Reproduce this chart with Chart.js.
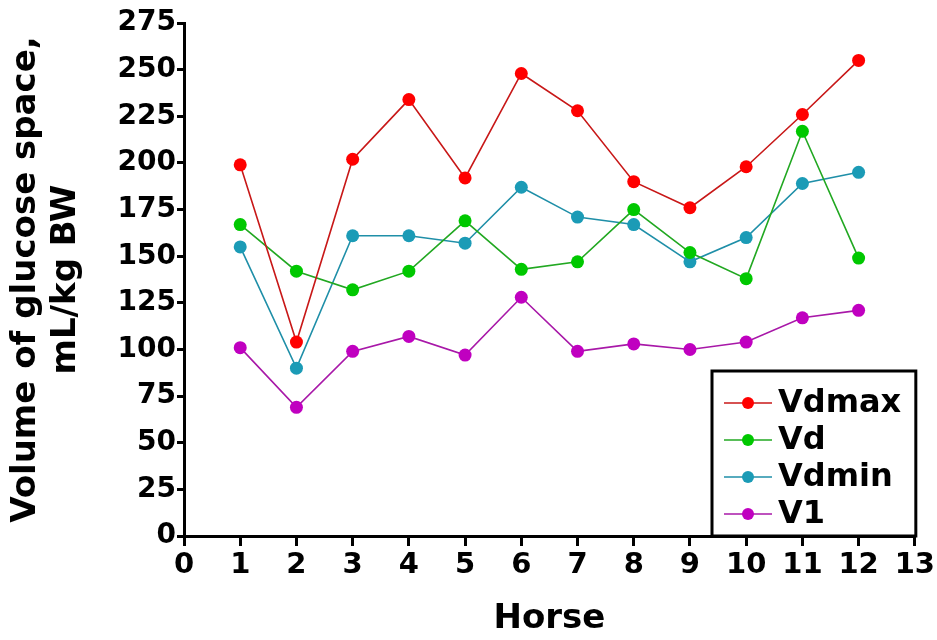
<!DOCTYPE html>
<html>
<head>
<meta charset="utf-8">
<script src="https://cdn.jsdelivr.net/npm/chart.js@4.4.1/dist/chart.umd.min.js"></script>
<style>
  html, body { margin: 0; padding: 0; background: #fff; }
  #wrap { width: 937px; height: 640px; position: relative; }
</style>
</head>
<body>
<div id="wrap"><canvas id="c" width="937" height="640"></canvas></div>
<script>
// Horse numbers and glucose-space volumes (mL/kg BW)
const horses = [1, 2, 3, 4, 5, 6, 7, 8, 9, 10, 11, 12];
const vdmax = [199, 104, 202, 234, 192, 248, 228, 190, 176, 198, 226, 255];
const vd    = [167, 142, 132, 142, 169, 143, 147, 175, 152, 138, 217, 149];
const vdmin = [155,  90, 161, 161, 157, 187, 171, 167, 147, 160, 189, 195];
const v1    = [101,  69,  99, 107,  97, 128,  99, 103, 100, 104, 117, 121];
const yTicks = [0, 25, 50, 75, 100, 125, 150, 175, 200, 225, 250, 275];
const xTicks = [0, 1, 2, 3, 4, 5, 6, 7, 8, 9, 10, 11, 12, 13];

const seriesNames = ['Vdmax', 'Vd', 'Vdmin', 'V1'];
const seriesValues = [vdmax, vd, vdmin, v1];
const seriesColors = ['#ff0000', '#00c800', '#1b9bb6', '#c000c0'];
const lineColors = ['#c81818', '#22a822', '#1f8fa8', '#a818a8'];

const FONT = '"DejaVu Sans", Verdana, sans-serif';

const datasets = seriesNames.map((name, i) => ({
  label: name,
  data: horses.map((h, k) => ({ x: h, y: seriesValues[i][k] })),
  borderColor: lineColors[i],
  backgroundColor: seriesColors[i],
  pointBackgroundColor: seriesColors[i],
  pointBorderColor: seriesColors[i],
  borderWidth: 1.6,
  pointRadius: 6.5,
  pointBorderWidth: 0,
  pointStyle: 'circle',
  tension: 0,
  fill: false
}));

// Boxed legend drawn inside the lower-right corner of the plot
const boxLegend = {
  id: 'boxLegend',
  afterDraw(chart) {
    const ctx = chart.ctx;
    const xs = chart.scales.x, ys = chart.scales.y;
    const left = 712, right = xs.right + 1, top = 371, bottom = ys.bottom;
    ctx.save();
    ctx.fillStyle = '#fff';
    ctx.fillRect(left, top, right - left, bottom - top);
    ctx.strokeStyle = '#000';
    ctx.lineWidth = 3;
    ctx.strokeRect(left, top, right - left, bottom - top);
    ctx.font = 'bold 32px ' + FONT;
    ctx.textBaseline = 'middle';
    chart.data.datasets.forEach((ds, i) => {
      const y = 403 + i * 37;
      ctx.strokeStyle = ds.borderColor;
      ctx.lineWidth = 1.6;
      ctx.beginPath();
      ctx.moveTo(724, y);
      ctx.lineTo(772, y);
      ctx.stroke();
      ctx.fillStyle = ds.pointBackgroundColor;
      ctx.beginPath();
      ctx.arc(748, y, 6, 0, Math.PI * 2);
      ctx.fill();
      ctx.fillStyle = '#000';
      ctx.fillText(ds.label, 778, y + 1);
    });
    ctx.restore();
  }
};

new Chart(document.getElementById('c'), {
  type: 'line',
  data: { datasets },
  plugins: [boxLegend],
  options: {
    responsive: false,
    animation: false,
    events: [],
    layout: { padding: { top: 18, right: 16, left: 0, bottom: 0 } },
    plugins: { legend: { display: false }, tooltip: { enabled: false } },
    scales: {
      x: {
        type: 'linear',
        min: 0, max: 13,
        afterBuildTicks: (s) => { s.ticks = xTicks.map(v => ({ value: v })); },
        afterFit: (s) => { s.height = 104; },
        border: { display: true, color: '#000', width: 3 },
        grid: { drawOnChartArea: false, color: '#000', lineWidth: 3, tickLength: 10 },
        ticks: { color: '#000', font: { family: FONT, size: 29, weight: 'bold' }, padding: 2, maxRotation: 0, autoSkip: false },
        title: { display: true, text: 'Horse', color: '#000', font: { family: FONT, size: 34, weight: 'bold' }, padding: { top: 10, bottom: 0 } }
      },
      y: {
        type: 'linear',
        min: 0, max: 275,
        afterBuildTicks: (s) => { s.ticks = yTicks.map(v => ({ value: v })); },
        afterFit: (s) => { s.width = 184; },
        border: { display: true, color: '#000', width: 3 },
        grid: { drawOnChartArea: false, color: '#000', lineWidth: 3, tickLength: 7 },
        ticks: { color: '#000', font: { family: FONT, size: 28, weight: 'bold', lineHeight: 1.58 }, padding: 1, autoSkip: false },
        title: { display: true, text: ['Volume of glucose space,', 'mL/kg BW'], color: '#000', font: { family: FONT, size: 34, weight: 'bold', lineHeight: 1.18 }, padding: { top: 6, bottom: 0 } }
      }
    }
  }
});
</script>
</body>
</html>
